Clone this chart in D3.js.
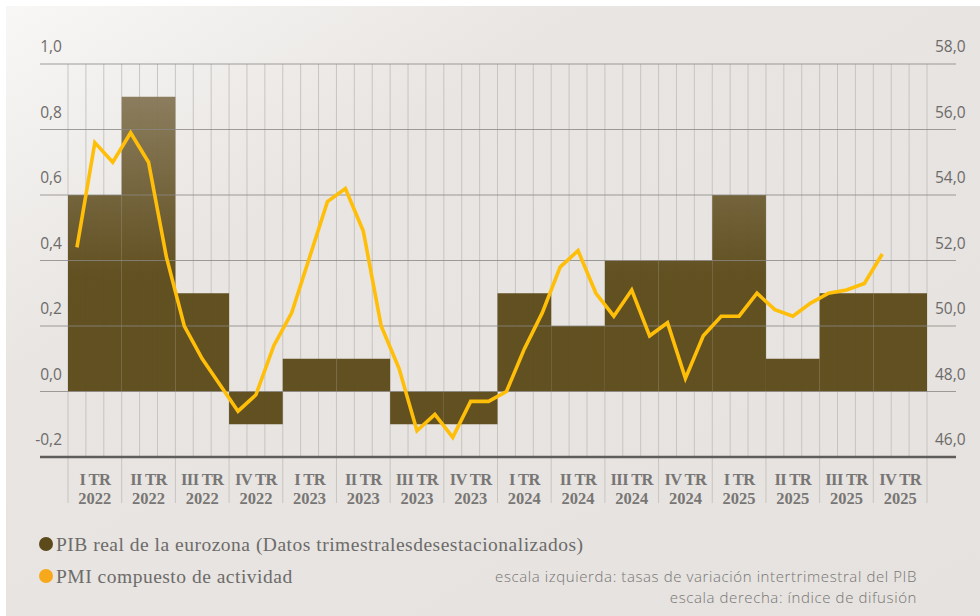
<!DOCTYPE html>
<html>
<head>
<meta charset="utf-8">
<script src="https://cdn.jsdelivr.net/npm/d3@7"></script>
<style>
  html, body { margin: 0; padding: 0; background: #fff; }
  svg { display: block; }
</style>
</head>
<body>
<svg id="chart" width="980" height="616"></svg>
<script>
const quarters = [
  'I TR 2022', 'II TR 2022', 'III TR 2022', 'IV TR 2022',
  'I TR 2023', 'II TR 2023', 'III TR 2023', 'IV TR 2023',
  'I TR 2024', 'II TR 2024', 'III TR 2024', 'IV TR 2024',
  'I TR 2025', 'II TR 2025', 'III TR 2025', 'IV TR 2025'
];

// PIB real de la eurozona, % intertrimestral (escala izquierda)
const gdp = [0.6, 0.9, 0.3, -0.1, 0.1, 0.1, -0.1, -0.1, 0.3, 0.2, 0.4, 0.4, 0.6, 0.1, 0.3, 0.3];

// PMI compuesto, mensual ene-2022 .. oct-2025 (escala derecha)
const pmi2022 = [52.4, 55.6, 55.0, 55.9, 55.0, 52.1, 50.0, 49.0, 48.2, 47.4, 47.9, 49.4];
const pmi2023 = [50.4, 52.1, 53.8, 54.2, 52.9, 50.0, 48.7, 46.8, 47.3, 46.6, 47.7, 47.7];
const pmi2024 = [48.0, 49.3, 50.4, 51.8, 52.3, 51.0, 50.3, 51.1, 49.7, 50.1, 48.4, 49.7];
const pmi2025 = [50.3, 50.3, 51.0, 50.5, 50.3, 50.7, 51.0, 51.1, 51.3, 52.2];
const pmi = [...pmi2022, ...pmi2023, ...pmi2024, ...pmi2025];

const leftTicks = [-0.2, 0, 0.2, 0.4, 0.6, 0.8, 1.0];
const rightTicks = [46, 48, 50, 52, 54, 56, 58];

const legendItems = [
  { label: 'PIB real de la eurozona (Datos trimestralesdesestacionalizados)', color: '#5c4a1a' },
  { label: 'PMI compuesto de actividad', color: '#f7a91b' }
];
const notes = [
  'escala izquierda: tasas de variación intertrimestral del PIB',
  'escala derecha: índice de difusión'
];

const W = 980, H = 616;
const plotL = 68, plotR = 927, plotT = 64, plotB = 457;

const svg = d3.select('#chart');
const defs = svg.append('defs');

const bg = defs.append('linearGradient')
  .attr('id', 'bg')
  .attr('x1', 0).attr('y1', 0)
  .attr('x2', 1).attr('y2', 1);
bg.append('stop').attr('offset', 0).attr('stop-color', '#f8f7f5');
bg.append('stop').attr('offset', 0.3).attr('stop-color', '#e8e5e2');
bg.append('stop').attr('offset', 1).attr('stop-color', '#e5e2df');

const barGrad = defs.append('linearGradient')
  .attr('id', 'barGrad')
  .attr('gradientUnits', 'userSpaceOnUse')
  .attr('x1', 0).attr('y1', 97)
  .attr('x2', 0).attr('y2', 275);
barGrad.append('stop').attr('offset', 0).attr('stop-color', '#877858');
barGrad.append('stop').attr('offset', 1).attr('stop-color', '#5c4a19');

svg.append('rect')
  .attr('x', 6).attr('y', 6)
  .attr('width', W - 6).attr('height', H - 6)
  .attr('fill', 'url(#bg)');

const locale = d3.formatLocale({ decimal: ',', thousands: '.', grouping: [3], currency: ['', '€'], minus: '-' });
const fmt = locale.format('.1f');

const x = d3.scaleBand()
  .domain(quarters)
  .range([plotL, plotR]);

const xm = d3.scaleBand()
  .domain(d3.range(quarters.length * 3))
  .range([plotL, plotR]);

const yL = d3.scaleLinear()
  .domain([-0.2, 1.0])
  .range([plotB, plotT]);

const yR = d3.scaleLinear()
  .domain([46, 58])
  .range([plotB, plotT]);

// vertical month lines
svg.append('g')
  .selectAll('line')
  .data(d3.range(quarters.length * 3 + 1))
  .join('line')
  .attr('x1', i => plotL + i * xm.bandwidth())
  .attr('x2', i => plotL + i * xm.bandwidth())
  .attr('y1', plotT)
  .attr('y2', i => i % 3 === 0 ? 503 : plotB)
  .attr('stroke', '#c8c4c0')
  .attr('stroke-width', 1);

// bars
svg.append('g')
  .selectAll('rect')
  .data(gdp)
  .join('rect')
  .attr('x', (_, i) => x(quarters[i]))
  .attr('y', d => yL(Math.max(0, d)))
  .attr('width', x.bandwidth())
  .attr('height', d => Math.abs(yL(d) - yL(0)))
  .attr('fill', 'url(#barGrad)')
  .attr('opacity', 0.96);

// horizontal gridlines
svg.append('g')
  .selectAll('line')
  .data(leftTicks.filter(d => d > -0.2))
  .join('line')
  .attr('x1', 40)
  .attr('x2', 956)
  .attr('y1', d => yL(d))
  .attr('y2', d => yL(d))
  .attr('stroke', '#8a8783')
  .attr('stroke-opacity', 0.8)
  .attr('stroke-width', 1);

svg.append('line')
  .attr('x1', 40).attr('x2', 956)
  .attr('y1', plotB).attr('y2', plotB)
  .attr('stroke', '#5f5d5b')
  .attr('stroke-width', 2.5);

// left axis labels
svg.append('g')
  .selectAll('text')
  .data(leftTicks)
  .join('text')
  .attr('x', 62)
  .attr('y', d => yL(d) - 12)
  .attr('text-anchor', 'end')
  .attr('font-family', '"Open Sans", sans-serif')
  .attr('font-size', 15.5)
  .attr('fill', '#6d6b69')
  .text(d => fmt(d));

// right axis labels
svg.append('g')
  .selectAll('text')
  .data(rightTicks)
  .join('text')
  .attr('x', 935)
  .attr('y', d => yR(d) - 12)
  .attr('font-family', '"Open Sans", sans-serif')
  .attr('font-size', 15.5)
  .attr('fill', '#6d6b69')
  .text(d => fmt(d));

// PMI line
const line = d3.line()
  .x((_, i) => xm(i) + xm.bandwidth() / 2)
  .y(d => yR(d));

svg.append('path')
  .datum(pmi)
  .attr('d', line)
  .attr('fill', 'none')
  .attr('stroke', '#ffbe08')
  .attr('stroke-width', 3.6)
  .attr('stroke-linejoin', 'miter');

// quarter labels
const qLabels = svg.append('g')
  .selectAll('text')
  .data(quarters)
  .join('text')
  .attr('text-anchor', 'middle')
  .attr('font-family', '"Liberation Serif", serif')
  .attr('font-weight', 'bold')
  .attr('font-size', 16.5)
  .attr('fill', '#787674');

qLabels.append('tspan')
  .attr('x', d => x(d) + x.bandwidth() / 2)
  .attr('y', 485)
  .attr('letter-spacing', -0.6)
  .text(d => d.slice(0, d.lastIndexOf(' ')));

qLabels.append('tspan')
  .attr('x', d => x(d) + x.bandwidth() / 2)
  .attr('y', 504)
  .text(d => d.slice(d.lastIndexOf(' ') + 1));

// legend
const legend = svg.append('g')
  .selectAll('g')
  .data(legendItems)
  .join('g')
  .attr('transform', (_, i) => `translate(46, ${544 + i * 32})`);

legend.append('circle')
  .attr('r', 7)
  .attr('fill', d => d.color);

legend.append('text')
  .attr('x', 10)
  .attr('y', 6.5)
  .attr('font-family', '"Liberation Serif", serif')
  .attr('font-size', 19.5)
  .attr('letter-spacing', 0.5)
  .attr('fill', '#6d6b69')
  .text(d => d.label);

// scale notes
svg.append('g')
  .selectAll('text')
  .data(notes)
  .join('text')
  .attr('x', 917)
  .attr('y', (_, i) => 582 + i * 20.6)
  .attr('text-anchor', 'end')
  .attr('font-family', '"Open Sans", sans-serif')
  .attr('font-weight', 300)
  .attr('font-size', 15)
  .attr('letter-spacing', 0.6)
  .attr('fill', '#777573')
  .text(d => d);
</script>
</body>
</html>
